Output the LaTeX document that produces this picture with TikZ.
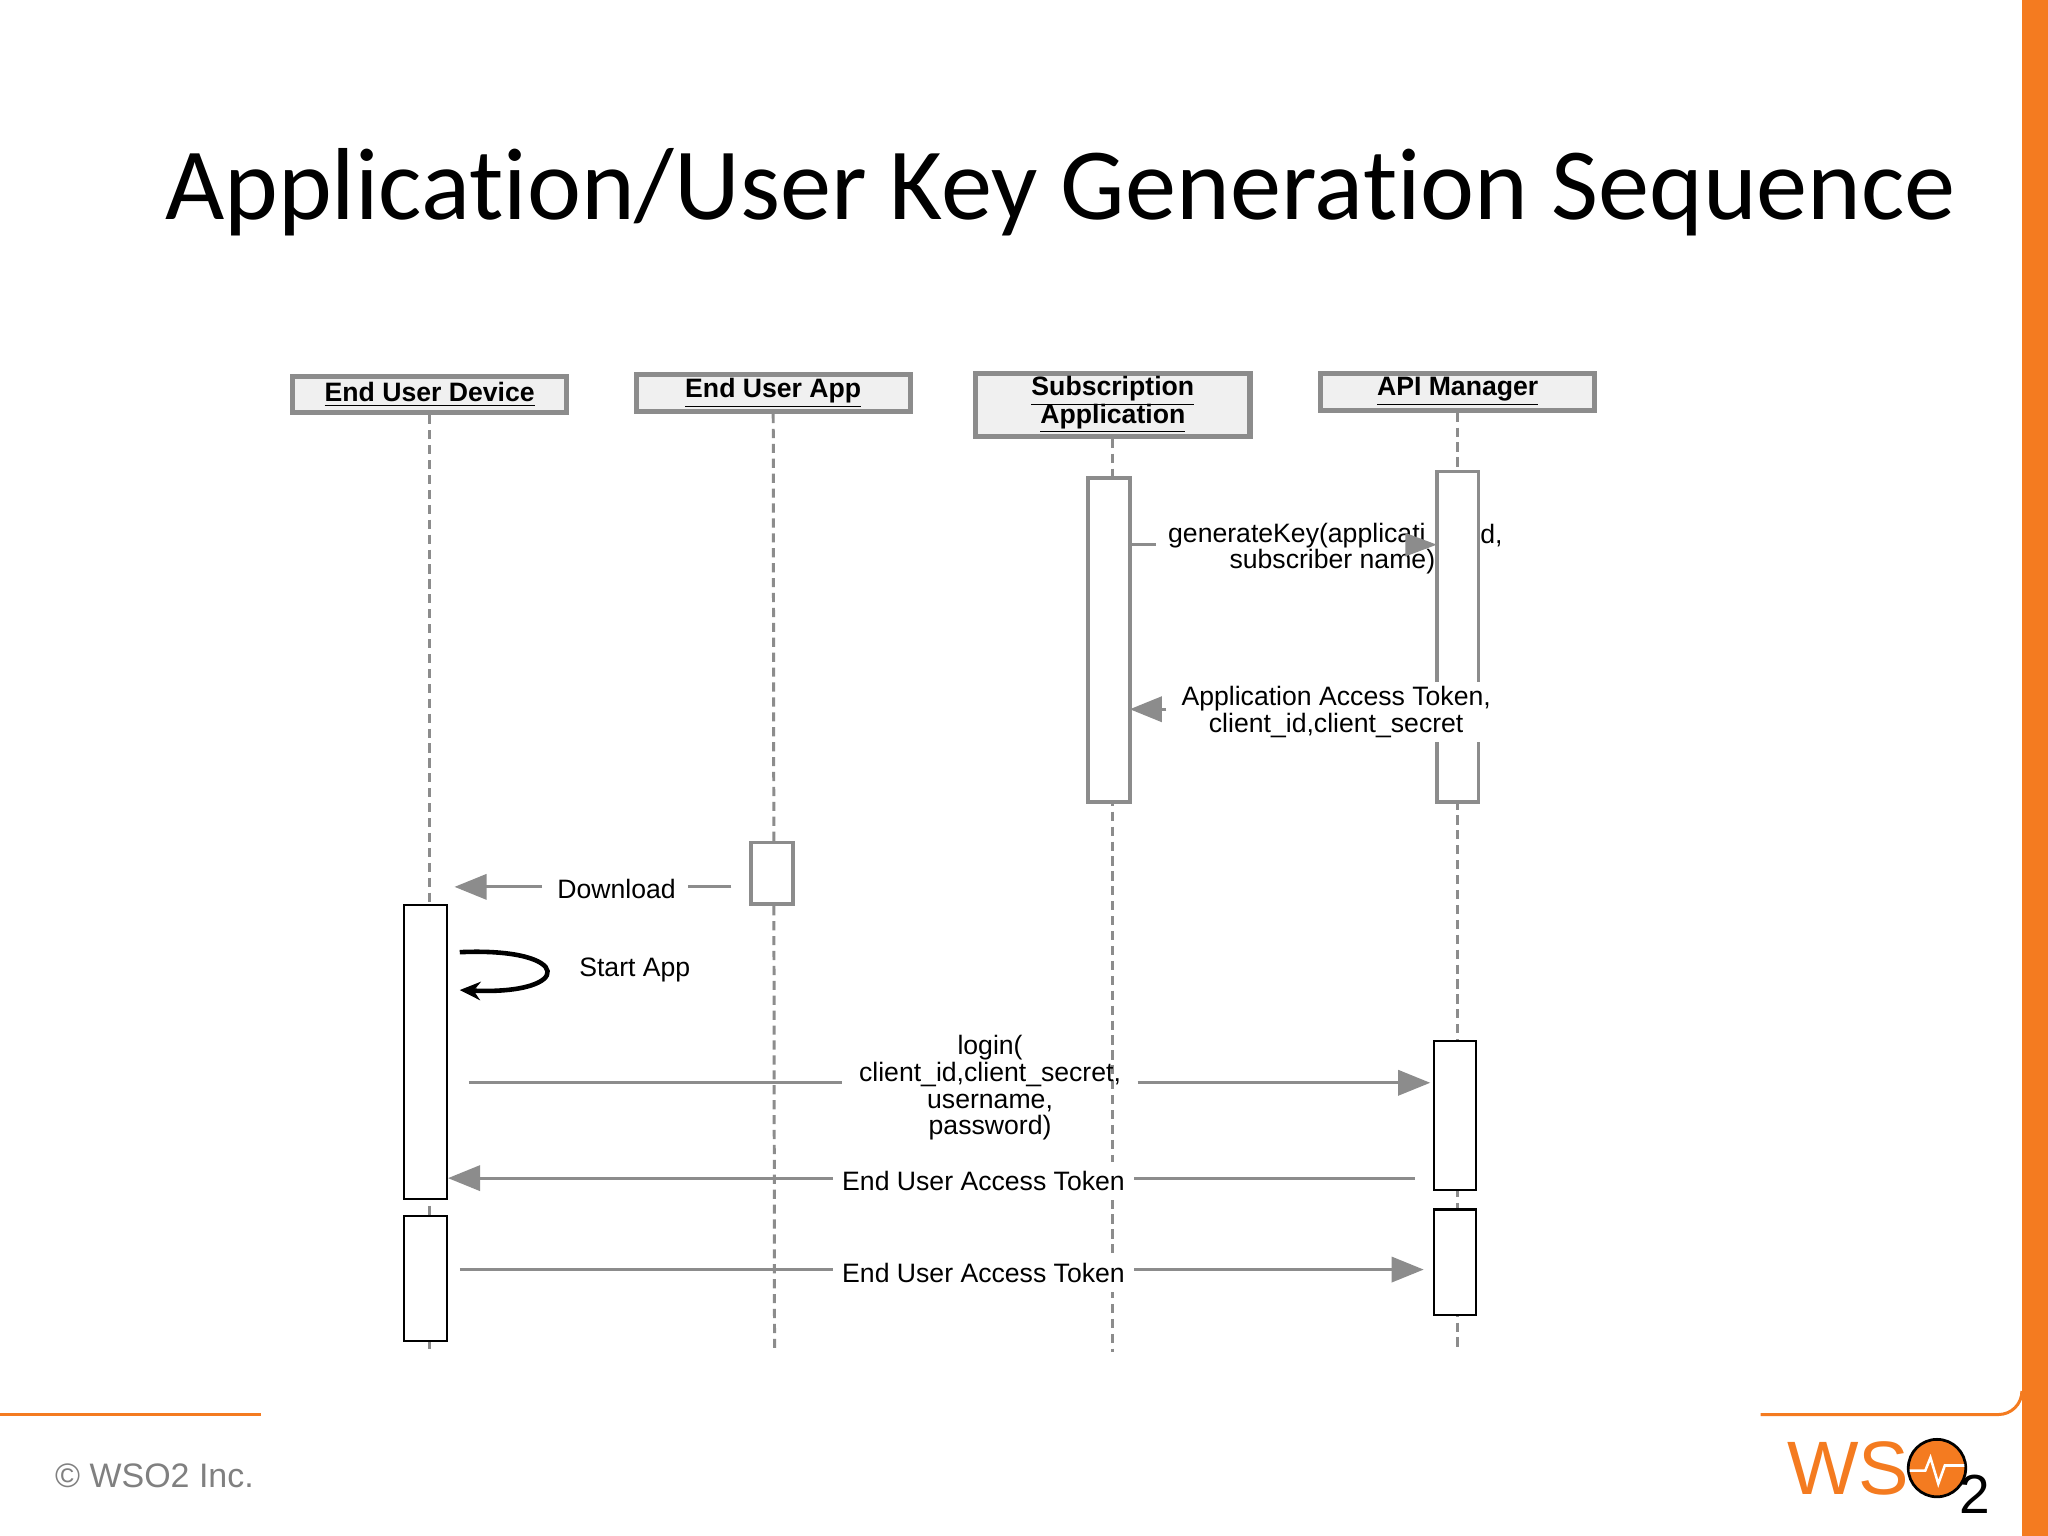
\documentclass[tikz,border=0pt]{standalone}
\usepackage{fontspec}
\setmainfont{Liberation Sans}
\newfontfamily\titlefont{Carlito}[Ligatures=NoCommon]
\usetikzlibrary{arrows.meta}
\definecolor{wsoorange}{HTML}{F47B20}
\definecolor{lgray}{HTML}{8C8C8C}
\begin{document}
\begin{tikzpicture}[x=0.02cm,y=-0.02cm,
  hdr/.style={draw=lgray,line width=2.2pt,fill=gray!12,minimum width=210*0.02cm,inner sep=0pt,align=center,font=\fontsize{11.6}{12}\selectfont\bfseries},
  life/.style={draw=lgray,line width=1.3pt,dash pattern=on 4pt off 2.5pt},
  gact/.style={draw=lgray,line width=1.6pt,fill=white},
  bact/.style={draw=black,line width=0.9pt,fill=white},
  msg/.style={draw=lgray,line width=1.3pt},
  tip/.style={-{Triangle[length=14pt,width=11pt]}},
  lbl/.style={font=\fontsize{11.6}{11.6}\selectfont,align=center,inner sep=0pt}]
\useasboundingbox (0,0) rectangle (1568,1176);
\fill[white] (0,0) rectangle (1568,1176);
% orange frame
\fill[wsoorange] (1548,0) rectangle (1568,1176);
\draw[wsoorange,line width=1.3pt] (0,1083) -- (200,1083);
\draw[wsoorange,line width=1.3pt] (1348,1083) -- (1530,1083) to[out=0,in=-90] (1548,1065);
\node[anchor=center,font=\titlefont\fontsize{44.6}{46}\selectfont] (title) at (812,147) {Application/User Key Generation Sequence};
\node[anchor=west,text=gray,font=\fontsize{14.8}{16}\selectfont] (copy) at (36,1130) {© WSO2 Inc.};
% logo
\node[anchor=west,text=wsoorange,font=\fontsize{33}{34}\selectfont,inner sep=0pt] (wso) at (1368,1124) {WS};
\node[circle,draw=black,line width=1.2pt,fill=wsoorange,minimum size=44*0.02cm,inner sep=0pt] (oo) at (1483,1124) {};
\draw[white,line width=1.1pt] (1462,1126) -- (1474,1126) -- (1478,1116) -- (1484,1136) -- (1489,1122) -- (1504,1122);
\node[font=\fontsize{24}{26}\selectfont,inner sep=0pt] (two) at (1512,1144) {2};
% headers
\node[hdr,minimum height=28*0.02cm] (dev) at (329,302) {\underline{End User Device}};
\node[hdr,minimum height=28*0.02cm] (app) at (592,301) {\underline{End User App}};
\node[hdr,minimum height=48*0.02cm] (sub) at (852,310) {\underline{Subscription}\\[-2pt]\underline{Application}};
\node[hdr,minimum height=28*0.02cm] (api) at (1116,300) {\underline{API Manager}};
\coordinate (devE) at (329,1035);
\coordinate (appE) at (593,1035);
\coordinate (subE) at (852,1035);
\coordinate (apiE) at (1116,1035);
\draw[life] (dev.south) -- (devE);
\draw[life] (app.south) -- (appE);
\draw[life] (sub.south) -- (subE);
\draw[life] (api.south) -- (apiE);
% generateKey
\node[lbl,anchor=west] (gk) at (894,410) {generateKey(applicati};
\node[lbl,anchor=west] (gkb) at (941,430) {subscriber name)};
\draw[gact] (833,366) rectangle (865,614);
\draw[msg] (866,417) -- (885,417);
\draw[gact] (1100,361) rectangle (1132,614);
\node[lbl,anchor=west] (gk2) at (1133,410) {d,};
\fill[lgray] (1100,417) -- (1076,408) -- (1076,426) -- cycle;
\coordinate (apiA) at (1100,417);
% Application access token
\node[lbl,fill=white,inner sep=2pt] (aat) at (1023,545) {Application Access Token,\\client\_id,client\_secret};
\coordinate (subA) at (865,543);
\draw[msg,tip] (893,543) -- (subA);
% download
\draw[gact] (575,645) rectangle (607,692);
\node[lbl] (dl) at (472,681) {Download};
\draw[msg] (560,679) -- (527,679);
\draw[msg,tip] (415,679) -- (348,679);
% device activations
\draw[bact] (309,693) rectangle (342,918);
\draw[bact] (309,931) rectangle (342,1027);
\draw[bact] (1098,797) rectangle (1130,911);
\draw[bact] (1098,926) rectangle (1130,1007);
% start app
\draw[black,line width=2pt,-{Stealth[length=9pt,width=8pt]}] (352,729) .. controls (440,725) and (440,762) .. (352,758);
\node[lbl] (sa) at (486,743) {Start App};
% login
\node[lbl] (lg) at (758,833) {login(\\client\_id,client\_secret,\\username,\\password)};
\draw[msg] (359,829) -- (645,829);
\draw[msg,tip] (871,829) -- (1095,829);
% end user access token back
\coordinate (eb1) at (1083,902);
\coordinate (eb2) at (343,902);
\draw[msg,tip] (eb1) -- (eb2);
\node[lbl,fill=white,inner sep=4pt] (eat1) at (753,904) {End User Access Token};
% end user access token forward
\coordinate (ef1) at (352,972);
\coordinate (ef2) at (1090,972);
\draw[msg,tip] (ef1) -- (ef2);
\node[lbl,fill=white,inner sep=4pt] (eat2) at (753,975) {End User Access Token};
\end{tikzpicture}
\end{document}
